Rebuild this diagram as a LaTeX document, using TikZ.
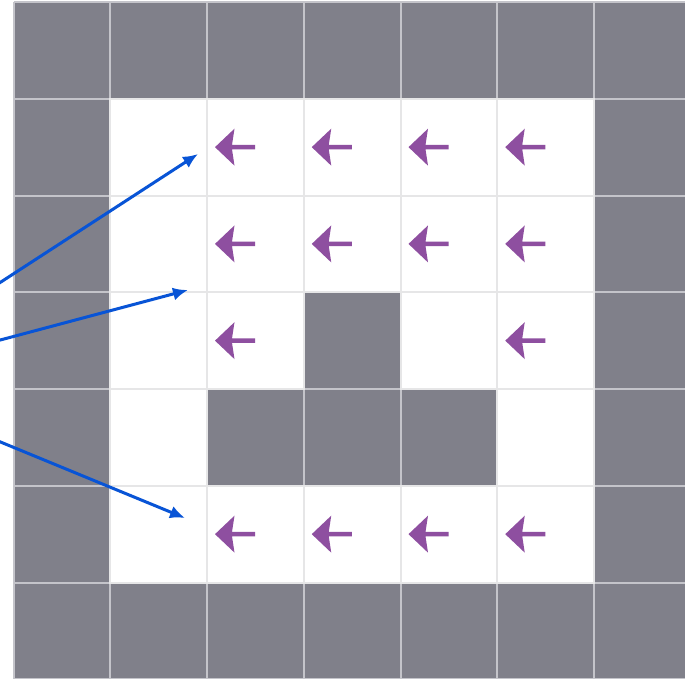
\documentclass[tikz,border=0pt]{standalone}
\usetikzlibrary{arrows.meta}
\definecolor{wallgrey}{RGB}{128,128,138}
\definecolor{wallline}{RGB}{196,196,202}
\definecolor{gridline}{RGB}{230,230,231}
\definecolor{policy}{RGB}{142,79,160}
\definecolor{pointerblue}{RGB}{8,84,214}

\begin{document}
\begin{tikzpicture}[x=1pt, y=-1pt,
    free/.style={fill=white, draw=gridline, line width=2pt},
    move/.style={fill=policy},
    pointer/.style={draw=pointerblue, line width=3pt, -{Latex[length=15pt,width=13pt]}}]
    \clip (0,0) rectangle (685,678);
    \fill[white] (0,0) rectangle (685,678);
    % walls
    \fill[wallgrey] (13.5,2) rectangle +(677.25,677.25);
    \foreach \i in {0,...,7} {
        \draw[wallline, line width=2pt] ({13.5+96.75*\i},2) -- +(0,677.25);
        \draw[wallline, line width=2pt] (13.5,{2+96.75*\i}) -- +(677.25,0);
    }
    % free cells
    \foreach \c/\r in {1/1,2/1,3/1,4/1,5/1,1/2,2/2,3/2,4/2,5/2,1/3,2/3,4/3,5/3,1/4,5/4,1/5,2/5,3/5,4/5,5/5}
        \draw[free] ({13.5+96.75*\c},{2+96.75*\r}) rectangle +(96.75,96.75);
    % policy arrows
    \foreach \c/\r in {2/1,3/1,4/1,5/1,2/2,3/2,4/2,5/2,2/3,5/3,2/5,3/5,4/5,5/5}
        \fill[move] ({13.5+96.75*\c+8},{2+96.75*\r+48.4}) -- ++(19.5,-18.5) -- ++(-2.5,16.3)
            -- ++(23,0) -- ++(0,4.4) -- ++(-23,0) -- ++(2.5,16.3) -- cycle;
    % pointers
    \coordinate (src) at (-150,380);
    \coordinate (tipA) at (198,154);
    \coordinate (tipB) at (188,290);
    \coordinate (tipC) at (185,518);
    \draw[pointer] (src) -- (tipA);
    \draw[pointer] (src) -- (tipB);
    \draw[pointer] (src) -- (tipC);
\end{tikzpicture}
\end{document}
